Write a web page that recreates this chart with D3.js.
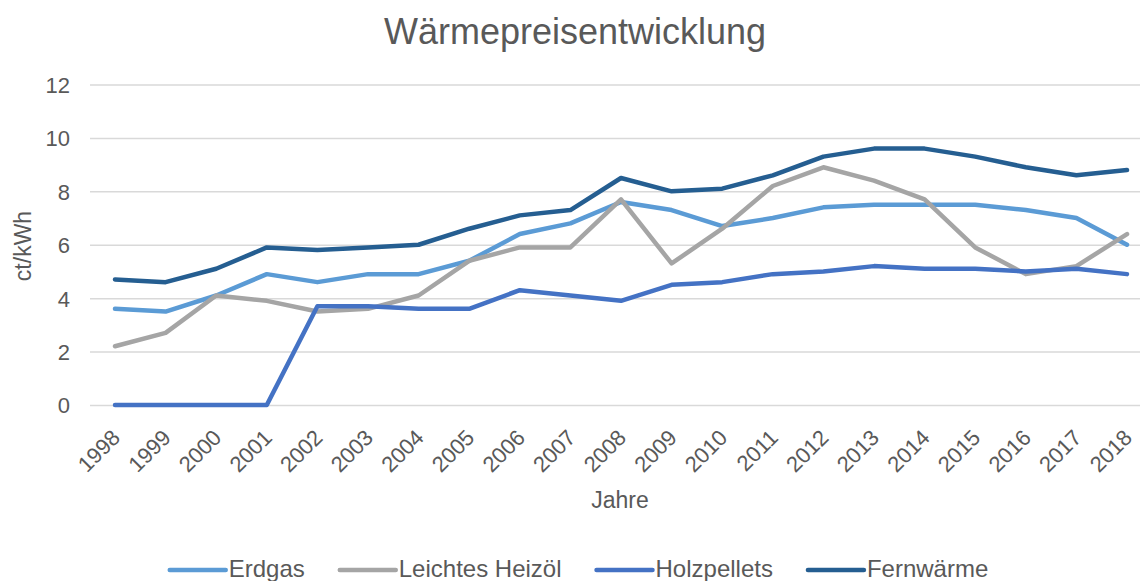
<!DOCTYPE html>
<html>
<head>
<meta charset="utf-8">
<script src="https://cdn.jsdelivr.net/npm/d3@7"></script>
<style>
  body { margin: 0; background: #fff; }
  svg { display: block; font-family: "Liberation Sans", Arial, sans-serif; }
</style>
</head>
<body>
<svg width="1140" height="581"></svg>
<script>
// data
var years = ["1998", "1999", "2000", "2001", "2002", "2003", "2004", "2005", "2006", "2007",
             "2008", "2009", "2010", "2011", "2012", "2013", "2014", "2015", "2016", "2017", "2018"];
var erdgas      = [3.6, 3.5, 4.1, 4.9, 4.6, 4.9, 4.9, 5.4, 6.4, 6.8, 7.6, 7.3, 6.7, 7.0, 7.4, 7.5, 7.5, 7.5, 7.3, 7.0, 6.0];
var heizoel     = [2.2, 2.7, 4.1, 3.9, 3.5, 3.6, 4.1, 5.4, 5.9, 5.9, 7.7, 5.3, 6.6, 8.2, 8.9, 8.4, 7.7, 5.9, 4.9, 5.2, 6.4];
var holzpellets = [0, 0, 0, 0, 3.7, 3.7, 3.6, 3.6, 4.3, 4.1, 3.9, 4.5, 4.6, 4.9, 5.0, 5.2, 5.1, 5.1, 5.0, 5.1, 4.9];
var fernwaerme  = [4.7, 4.6, 5.1, 5.9, 5.8, 5.9, 6.0, 6.6, 7.1, 7.3, 8.5, 8.0, 8.1, 8.6, 9.3, 9.6, 9.6, 9.3, 8.9, 8.6, 8.8];
var seriesNames = ["Erdgas", "Leichtes Heizöl", "Holzpellets", "Fernwärme"];
var yTicks = [0, 2, 4, 6, 8, 10, 12];

var colors = ["#5b9bd5", "#a5a5a5", "#4472c4", "#255e91"];
var series = [erdgas, heizoel, holzpellets, fernwaerme].map(function (vals, i) {
    return { name: seriesNames[i], color: colors[i], values: vals };
});

var svg = d3.select("svg");
var textColor = "#595959";

var x = d3.scalePoint().domain(years).range([115, 1127]);
var y = d3.scaleLinear().domain([0, 12]).range([405, 84.5]);

// title
svg.append("text")
    .attr("x", 575).attr("y", 44)
    .attr("text-anchor", "middle")
    .attr("font-size", 36)
    .attr("fill", textColor)
    .text("Wärmepreisentwicklung");

// grid + y axis
var yAxis = svg.append("g")
    .attr("transform", "translate(90,0)")
    .call(d3.axisLeft(y).tickValues(yTicks).tickSize(-1060).tickPadding(20));
yAxis.select(".domain").remove();
yAxis.selectAll(".tick line").attr("stroke", "#d9d9d9").attr("stroke-width", 1.5);
yAxis.selectAll(".tick text")
    .attr("font-size", 22)
    .attr("font-family", "Liberation Sans, Arial, sans-serif")
    .attr("fill", textColor)
    .attr("dy", "0.36em");

// x axis labels
var xAxis = svg.append("g")
    .attr("transform", "translate(0,405)")
    .call(d3.axisBottom(x).tickSize(0));
xAxis.select(".domain").remove();
xAxis.selectAll(".tick text")
    .attr("font-size", 22)
    .attr("font-family", "Liberation Sans, Arial, sans-serif")
    .attr("fill", textColor)
    .attr("text-anchor", "end")
    .attr("y", 0).attr("dy", 0)
    .attr("transform", "translate(6,34) rotate(-45)");

// axis titles
svg.append("text")
    .attr("x", 620).attr("y", 508)
    .attr("text-anchor", "middle")
    .attr("font-size", 23)
    .attr("fill", textColor)
    .text("Jahre");

svg.append("text")
    .attr("transform", "translate(31,246) rotate(-90)")
    .attr("text-anchor", "middle")
    .attr("font-size", 23)
    .attr("fill", textColor)
    .text("ct/kWh");

// lines
var line = d3.line()
    .x(function (d, i) { return x(years[i]); })
    .y(function (d) { return y(d); });

svg.append("g").selectAll("path")
    .data(series)
    .enter()
    .append("path")
    .attr("d", function (s) { return line(s.values); })
    .attr("fill", "none")
    .attr("stroke", function (s) { return s.color; })
    .attr("stroke-width", 4.5)
    .attr("stroke-linejoin", "round")
    .attr("stroke-linecap", "round");

// legend, laid out from text widths and centred
var legend = svg.append("g");
var items = legend.selectAll("g")
    .data(series)
    .enter()
    .append("g");
items.append("line")
    .attr("x1", 0).attr("x2", 56)
    .attr("y1", 570).attr("y2", 570)
    .attr("stroke", function (s) { return s.color; })
    .attr("stroke-width", 4.5)
    .attr("stroke-linecap", "round");
items.append("text")
    .attr("x", 59).attr("y", 577)
    .attr("font-size", 24)
    .attr("fill", textColor)
    .text(function (s) { return s.name; });

var offs = 0, widths = [];
items.each(function () {
    var w = 59 + d3.select(this).select("text").node().getComputedTextLength();
    widths.push(w);
});
var total = d3.sum(widths) + 35 * (widths.length - 1);
var start = 579 - total / 2;
items.attr("transform", function (s, i) {
    var t = "translate(" + (start + offs) + ",0)";
    offs += widths[i] + 35;
    return t;
});
</script>
</body>
</html>
